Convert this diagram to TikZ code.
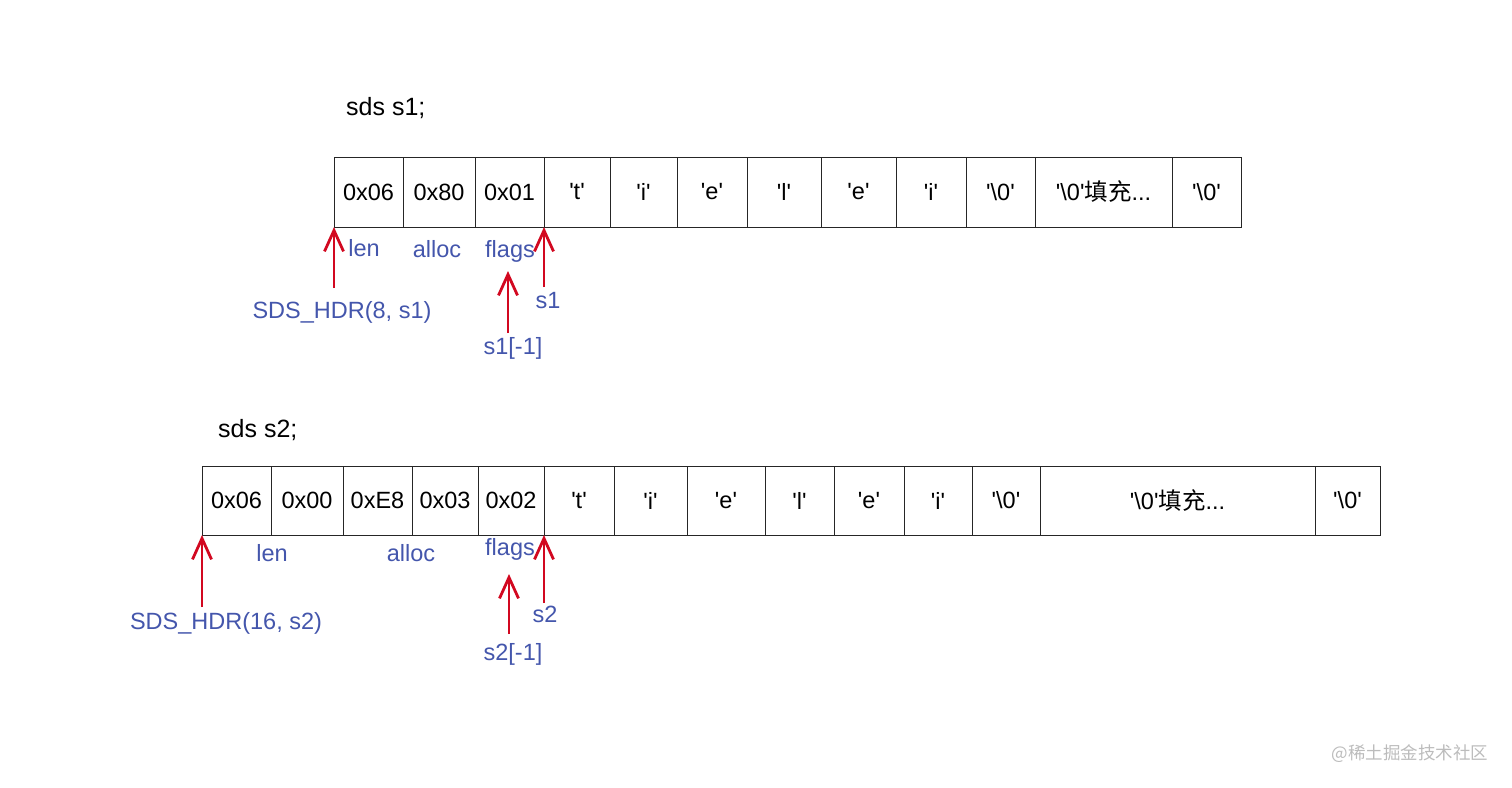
\documentclass[tikz,border=0pt]{standalone}
\usepackage{fontspec}
\setmainfont{Liberation Sans}
\newfontfamily\cjk{Noto Sans CJK SC}
\usetikzlibrary{arrows.meta}
\definecolor{lblblue}{RGB}{68,86,172}
\definecolor{ptrred}{RGB}{210,8,32}
\definecolor{wmgray}{RGB}{188,188,188}
\newcommand{\sq}{\textquotesingle}
\newcommand{\nul}{\textquotesingle\textbackslash 0\textquotesingle}
\begin{document}
\begin{tikzpicture}[x=1pt,y=-1pt,
  cell/.style={draw=black!85, line width=0.9pt, inner sep=0pt, outer sep=0pt, anchor=north west,
    font=\fontsize{23.5}{27}\selectfont},
  toprow/.style={cell, minimum height=70pt},
  botrow/.style={cell, minimum height=69pt},
  lbl/.style={text=lblblue, inner sep=0pt, font=\fontsize{23.5}{27}\selectfont},
  title/.style={text=black, inner sep=0pt, anchor=west, font=\fontsize{25}{29}\selectfont},
  ptr/.style={draw=ptrred, line width=1.3pt,
    -{Straight Barb[length=21pt, width=19pt, line width=2.8pt]}},
  wm/.style={text=wmgray, inner sep=0pt, font=\cjk\fontsize{17.5}{20}\selectfont}]
\useasboundingbox (0,0) rectangle (1512,787);

% ---- s1 ----
\node[title] (t1) at (346,108) {sds s1;};
\node[toprow, minimum width=69pt] (c1a) at (334,157) {0x06};
\node[toprow, minimum width=72pt] (c1b) at (403,157) {0x80};
\node[toprow, minimum width=69pt] (c1c) at (475,157) {0x01};
\node[toprow, minimum width=66pt] (c1d) at (544,157) {\sq t\sq};
\node[toprow, minimum width=67pt] (c1e) at (610,157) {\sq i\sq};
\node[toprow, minimum width=70pt] (c1f) at (677,157) {\sq e\sq};
\node[toprow, minimum width=74pt] (c1g) at (747,157) {\sq l\sq};
\node[toprow, minimum width=75pt] (c1h) at (821,157) {\sq e\sq};
\node[toprow, minimum width=70pt] (c1i) at (896,157) {\sq i\sq};
\node[toprow, minimum width=69pt] (c1j) at (966,157) {\nul};
\node[toprow, minimum width=137pt] (c1k) at (1035,157) {\nul{\cjk 填充}...};
\node[toprow, minimum width=69pt] (c1l) at (1172,157) {\nul};

\node[lbl] (l1len) at (364,248) {len};
\node[lbl] (l1alloc) at (437,249) {alloc};
\node[lbl] (l1flags) at (510,251) {flags};
\node[lbl] (l1hdr) at (342,312) {SDS\_HDR(8, s1)};
\node[lbl] (l1s) at (548,301) {s1};
\node[lbl] (l1m) at (513,348) {s1[-1]};

\coordinate (p1hdr) at (334,288);
\coordinate (p1s) at (544,287);
\coordinate (p1m) at (508,333);
\coordinate (p1mtip) at (508,271);
\draw[ptr] (p1hdr) -- (c1a.south west);
\draw[ptr] (p1s) -- (c1c.south east);
\draw[ptr] (p1m) -- (p1mtip);

% ---- s2 ----
\node[title] (t2) at (218,430) {sds s2;};
\node[botrow, minimum width=69pt] (c2a) at (202,466) {0x06};
\node[botrow, minimum width=72pt] (c2b) at (271,466) {0x00};
\node[botrow, minimum width=69pt] (c2c) at (343,466) {0xE8};
\node[botrow, minimum width=66pt] (c2d) at (412,466) {0x03};
\node[botrow, minimum width=66pt] (c2e) at (478,466) {0x02};
\node[botrow, minimum width=70pt] (c2f) at (544,466) {\sq t\sq};
\node[botrow, minimum width=73pt] (c2g) at (614,466) {\sq i\sq};
\node[botrow, minimum width=78pt] (c2h) at (687,466) {\sq e\sq};
\node[botrow, minimum width=69pt] (c2i) at (765,466) {\sq l\sq};
\node[botrow, minimum width=70pt] (c2j) at (834,466) {\sq e\sq};
\node[botrow, minimum width=68pt] (c2k) at (904,466) {\sq i\sq};
\node[botrow, minimum width=68pt] (c2l) at (972,466) {\nul};
\node[botrow, minimum width=275pt] (c2m) at (1040,466) {\nul{\cjk 填充}...};
\node[botrow, minimum width=65pt] (c2n) at (1315,466) {\nul};

\node[lbl] (l2len) at (272,553) {len};
\node[lbl] (l2alloc) at (411,553) {alloc};
\node[lbl] (l2flags) at (510,549) {flags};
\node[lbl] (l2hdr) at (226,623) {SDS\_HDR(16, s2)};
\node[lbl] (l2s) at (545,614) {s2};
\node[lbl] (l2m) at (513,654) {s2[-1]};

\coordinate (p2hdr) at (202,607);
\coordinate (p2s) at (544,603);
\coordinate (p2m) at (509,634);
\coordinate (p2mtip) at (509,574);
\draw[ptr] (p2hdr) -- (c2a.south west);
\draw[ptr] (p2s) -- (c2e.south east);
\draw[ptr] (p2m) -- (p2mtip);

% ---- watermark ----
\node[wm] (wm) at (1410,754) {@稀土掘金技术社区};
\end{tikzpicture}
\end{document}
